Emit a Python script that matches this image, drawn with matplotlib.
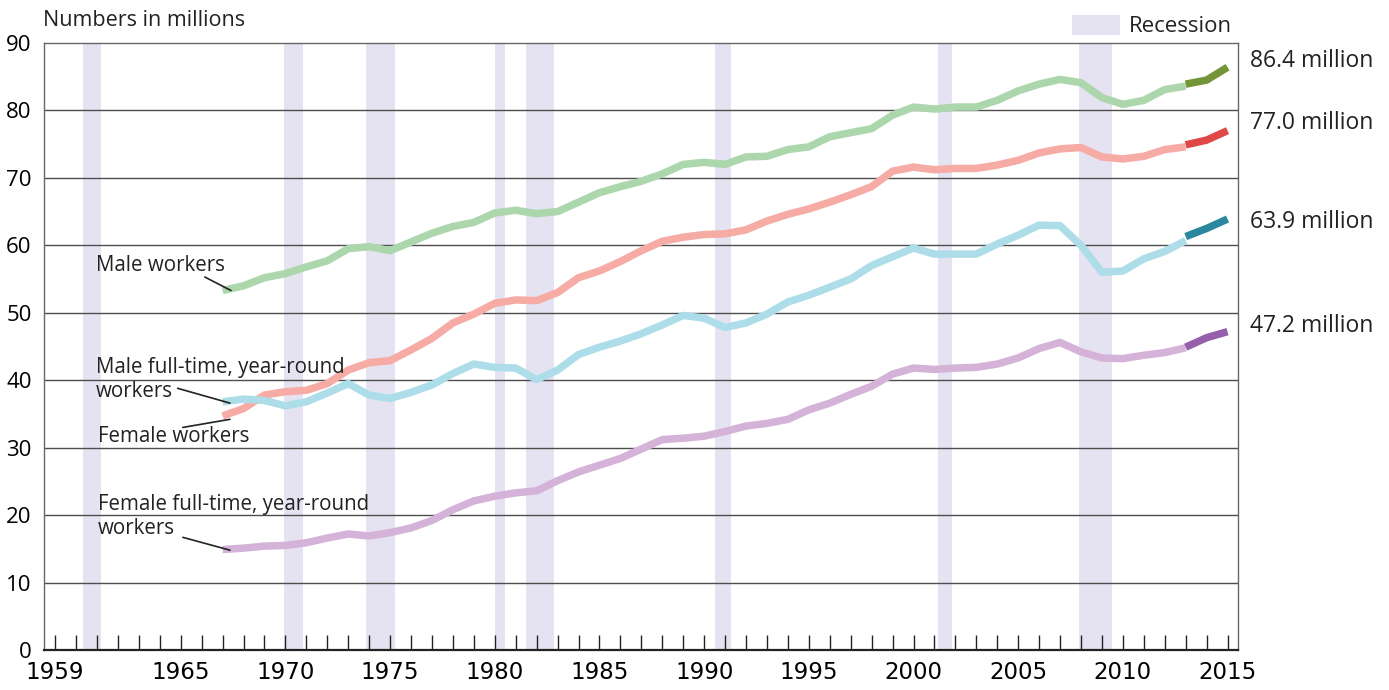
import matplotlib
matplotlib.use("Agg")
import matplotlib.pyplot as plt
from matplotlib.patches import Patch

plt.rcParams['font.family'] = ['Open Sans', 'DejaVu Sans']

years = list(range(1967, 2014))
years_new = [2013, 2014, 2015]

male_all = [53.3, 54.0, 55.2, 55.8, 56.8, 57.7, 59.5, 59.8, 59.2, 60.5,
            61.8, 62.8, 63.4, 64.8, 65.2, 64.7, 65.0, 66.4, 67.8, 68.7,
            69.5, 70.6, 72.0, 72.3, 72.0, 73.1, 73.2, 74.2, 74.6, 76.1,
            76.7, 77.3, 79.3, 80.5, 80.2, 80.5, 80.5, 81.5, 82.9, 83.9,
            84.6, 84.1, 81.9, 80.9, 81.5, 83.1, 83.6]
male_all_new = [83.9, 84.5, 86.4]

female_all = [34.7, 35.8, 37.8, 38.3, 38.5, 39.5, 41.5, 42.6, 42.9, 44.5,
              46.2, 48.5, 49.8, 51.4, 51.9, 51.8, 53.0, 55.2, 56.2, 57.6,
              59.2, 60.6, 61.2, 61.6, 61.7, 62.3, 63.6, 64.6, 65.4, 66.4,
              67.5, 68.7, 71.0, 71.6, 71.2, 71.4, 71.4, 71.9, 72.6, 73.7,
              74.3, 74.5, 73.1, 72.8, 73.2, 74.2, 74.6]
female_all_new = [74.9, 75.6, 77.0]

male_ft = [36.8, 37.2, 37.0, 36.2, 36.8, 38.1, 39.5, 37.8, 37.3, 38.2,
           39.3, 41.0, 42.4, 41.9, 41.8, 40.1, 41.5, 43.8, 44.9, 45.8,
           46.9, 48.2, 49.6, 49.2, 47.8, 48.5, 49.8, 51.6, 52.6, 53.8,
           55.0, 57.0, 58.3, 59.6, 58.7, 58.7, 58.7, 60.2, 61.5, 63.0,
           62.9, 60.0, 56.0, 56.2, 58.0, 59.1, 60.7]
male_ft_new = [61.3, 62.5, 63.9]

female_ft = [14.9, 15.1, 15.4, 15.5, 15.9, 16.6, 17.2, 16.9, 17.4, 18.1,
             19.2, 20.8, 22.1, 22.8, 23.3, 23.6, 25.1, 26.4, 27.4, 28.4,
             29.8, 31.2, 31.4, 31.7, 32.4, 33.2, 33.6, 34.2, 35.6, 36.6,
             37.9, 39.1, 40.9, 41.8, 41.6, 41.8, 41.9, 42.4, 43.3, 44.7,
             45.6, 44.2, 43.3, 43.2, 43.7, 44.1, 44.8]
female_ft_new = [44.9, 46.3, 47.2]

rec_start = [1960.33, 1969.92, 1973.83, 1980.0, 1981.5, 1990.5, 2001.17, 2007.92]
rec_end = [1961.17, 1970.83, 1975.25, 1980.5, 1982.83, 1991.3, 2001.83, 2009.5]

end_labels = ["86.4 million", "77.0 million", "63.9 million", "47.2 million"]
end_label_y = [87.4, 78.1, 63.4, 48.1]

band_color = '#e5e3f1'

fig = plt.figure(figsize=(13.89, 6.90), dpi=100)
ax = fig.add_axes([0.0317, 0.058, 0.8596, 0.8797])

for s, e in zip(rec_start, rec_end):
    ax.axvspan(s, e, color=band_color, lw=0, zorder=0)

for v in range(10, 90, 10):
    ax.axhline(v, color='#4d4d4d', lw=1.0, zorder=1)

series = [
    (male_all, male_all_new, '#acd6ac', '#749537'),
    (female_all, female_all_new, '#f6aba5', '#e04848'),
    (male_ft, male_ft_new, '#addde9', '#2a889e'),
    (female_ft, female_ft_new, '#d5b3d8', '#955fab'),
]
for old, new, c1, c2 in series:
    ax.plot(years, old, color=c1, lw=5.4, solid_capstyle='butt',
            solid_joinstyle='round', zorder=3)
    ax.plot(years_new, new, color=c2, lw=5.4, solid_capstyle='butt',
            solid_joinstyle='round', zorder=4)

ax.set_xlim(1958.47, 2015.5)
ax.set_ylim(0, 90)
ax.set_yticks(range(0, 100, 10))
ax.set_xticks(range(1959, 2016))
ax.set_xticklabels([str(y) if y in (1959, 1965, 1970, 1975, 1980, 1985, 1990,
                                      1995, 2000, 2005, 2010, 2015) else ''
                    for y in range(1959, 2016)],
                   family=['Liberation Sans Narrow', 'DejaVu Sans'], fontsize=16.5)
ax.tick_params(axis='x', direction='in', length=10.5, width=1.0,
               color='#222222', pad=8)
ax.tick_params(axis='y', length=0, pad=9, labelsize=16)
for sp in ['top', 'right', 'left']:
    ax.spines[sp].set_color('#666666')
    ax.spines[sp].set_linewidth(1.0)
ax.spines['bottom'].set_color('#222222')
ax.spines['bottom'].set_linewidth(1.6)

txt = dict(fontsize=14.8, color='#222222', va='center', ha='left')
ax.text(1960.96, 57.0, "Male workers", **txt)
ax.text(1960.96, 40.1, "Male full-time, year-round\nworkers",
        linespacing=1.2, **txt)
ax.text(1961.05, 31.6, "Female workers", **txt)
ax.text(1961.05, 19.8, "Female full-time, year-round\nworkers",
        linespacing=1.2, **txt)

lead = dict(arrowstyle='-', color='#222222', lw=1.2, shrinkA=0, shrinkB=0)
ax.annotate('', xy=(1967.4, male_all[0]), xytext=(1966.15, 55.3), arrowprops=lead)
ax.annotate('', xy=(1967.35, male_ft[0] - 0.2), xytext=(1964.85, 38.8), arrowprops=lead)
ax.annotate('', xy=(1967.35, female_all[0] - 0.5), xytext=(1965.1, 33.0), arrowprops=lead)
ax.annotate('', xy=(1967.35, female_ft[0] - 0.1), xytext=(1965.1, 16.7), arrowprops=lead)

for lab, yv in zip(end_labels, end_label_y):
    ax.text(2016.05, yv, lab, fontsize=16.5, color='#222222', va='center',
            ha='left', clip_on=False)

fig.text(0.031, 0.970, "Numbers in millions", fontsize=15.5, color='#222222',
         va='center', ha='left')

leg = ax.legend(handles=[Patch(facecolor=band_color, edgecolor='none',
                               label='Recession')],
                loc='lower right', bbox_to_anchor=(1.0, 1.0), frameon=False,
                fontsize=16, handlelength=2.2, handleheight=1.05,
                handletextpad=0.4, borderaxespad=0.05, borderpad=0.2)
for t in leg.get_texts():
    t.set_color('#222222')

fig.savefig('out.png', dpi=100)
